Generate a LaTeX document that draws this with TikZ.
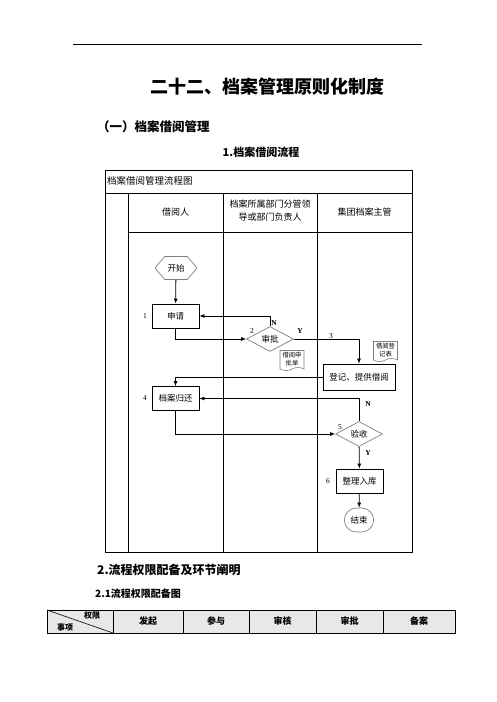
\documentclass[tikz,border=0pt]{standalone}
\usepackage{fontspec}
\setmainfont{Liberation Serif}
\newfontfamily\cjk{Noto Sans CJK SC}
\usetikzlibrary{arrows.meta,shapes.geometric,shapes.misc,shapes.symbols}
\tikzset{
  txt/.style={font=\cjk\fontsize{8.5}{10}\selectfont},
  box/.style={txt, draw, line width=0.8pt, minimum width=47pt, minimum height=24pt, inner sep=1pt},
  decision/.style={txt, diamond, draw=gray, line width=0.7pt, minimum width=47pt, minimum height=25pt, inner sep=0pt},
  doc/.style={tape, tape bend top=none, tape bend height=3pt, draw=gray, line width=0.6pt, minimum width=24pt, minimum height=20pt, inner sep=0pt, align=center, font=\cjk\fontsize{6.3}{7.5}\selectfont},
  flow/.style={line width=0.8pt, -{Latex[length=5pt,width=4pt]}},
  num/.style={font=\fontsize{7.5}{8}\selectfont},
  yn/.style={font=\bfseries\fontsize{7.5}{8}\selectfont},
  lane/.style={font=\cjk\fontsize{9}{13}\selectfont, align=center},
  head/.style={font=\cjk\bfseries\fontsize{9}{10}\selectfont, text height=7pt, text depth=1pt},
}
\begin{document}
\begin{tikzpicture}[x=1pt,y=-1pt]
        \useasboundingbox (0,0) rectangle (496,702);
        % Naglowek strony
        \draw[line width=0.8pt] (73,44) -- (422,44);
        \node[font=\cjk\bfseries\fontsize{18}{20}\selectfont] (title) at (267,87) {二十二、档案管理原则化制度};
        \node[anchor=west, inner sep=0pt, font=\cjk\bfseries\fontsize{12.5}{14}\selectfont] (part) at (97,127) {（一）档案借阅管理};
        \node[font=\cjk\bfseries\fontsize{11}{12}\selectfont] (sub) at (261,152) {1.档案借阅流程};

        % Ramka schematu
        \draw[line width=0.8pt] (105,170) rectangle (412,552);
        \draw[line width=0.8pt] (105,193) -- (412,193);
        \draw[line width=0.8pt] (128,232) -- (412,232);
        \foreach \x in {128,223,317}
            \draw[line width=0.8pt] (\x,193) -- (\x,552);
        \node[anchor=west, inner sep=0pt, font=\cjk\fontsize{9.5}{11}\selectfont] (cap) at (107,181) {档案借阅管理流程图};
        \node[lane] (l1) at (175.5,212) {借阅人};
        \node[lane] (l2) at (270,211) {档案所属部门分管领\\导或部门负责人};
        \node[lane] (l3) at (364.5,212) {集团档案主管};

        % Wezly
        \node[txt, signal, signal to=east and west, signal pointer angle=100, draw=gray, line width=0.7pt, minimum width=42pt, minimum height=23pt, inner sep=0pt] (start) at (176,268) {开始};
        \node[box] (apply) at (175.5,316) {申请};
        \node[decision] (approve) at (270,339) {审批};
        \node[doc] (form) at (292,359) {借阅申\\批单};
        \node[doc] (ledger) at (385.5,350) {借阅登\\记表};
        \node[box, minimum width=72pt, minimum height=26pt] (lend) at (359,377) {登记、提供借阅};
        \node[box] (back) at (175.5,398.5) {档案归还};
        \node[decision] (check) at (359,434) {验收};
        \node[box] (store) at (359.5,481) {整理入库};
        \node[txt, rounded rectangle, draw=gray, line width=0.7pt, minimum width=36pt, minimum height=24pt] (end) at (359,520) {结束};

        % Numery i Y/N
        \node[num] at (145,316) {1};
        \node[num] at (252,331) {2};
        \node[num] at (331,336) {3};
        \node[num] at (145,398) {4};
        \node[num] at (340,427) {5};
        \node[num] at (328,481) {6};
        \node[yn] at (274,323) {N};
        \node[yn] at (300,331) {Y};
        \node[yn] at (368,404) {N};
        \node[yn] at (368,453) {Y};

        % Strzalki
        \draw[flow] (start) -- (apply);
        \draw[flow] (apply.south) |- (approve.west);
        \draw[flow] (approve.north) |- (apply.east);
        \draw[flow] (approve.east) -| (lend.north);
        \draw[flow] (lend.west) -| (back.north);
        \draw[flow] (check.north) |- (back.east);
        \draw[flow] (back.south) |- (check.west);
        \draw[flow] (check) -- (store);
        \draw[flow] (store) -- (end);

        % Tabela uprawnien
        \node[anchor=west, inner sep=0pt, font=\cjk\bfseries\fontsize{12}{14}\selectfont] (sec2) at (97,570) {2.流程权限配备及环节阐明};
        \node[anchor=west, inner sep=0pt, font=\cjk\bfseries\fontsize{10}{12}\selectfont] (sec21) at (95,594) {2.1流程权限配备图};
        \filldraw[fill=gray!18, line width=0.8pt] (47,610) rectangle (455,633);
        \foreach \x in {113,183,249,316,383}
            \draw[line width=0.8pt] (\x,610) -- (\x,633);
        \draw[line width=0.6pt] (47,610) -- (113,633);
        \node[head, font=\cjk\bfseries\fontsize{8}{9}\selectfont] (right) at (92,615.5) {权限};
        \node[head, font=\cjk\bfseries\fontsize{8}{9}\selectfont] (item) at (65,627) {事项};
        \node[head] (c1) at (148,621.5) {发起};
        \node[head] (c2) at (216,621.5) {参与};
        \node[head] (c3) at (282.5,621.5) {审核};
        \node[head] (c4) at (349.5,621.5) {审批};
        \node[head] (c5) at (419,621.5) {备案};
    \end{tikzpicture}
\end{document}
